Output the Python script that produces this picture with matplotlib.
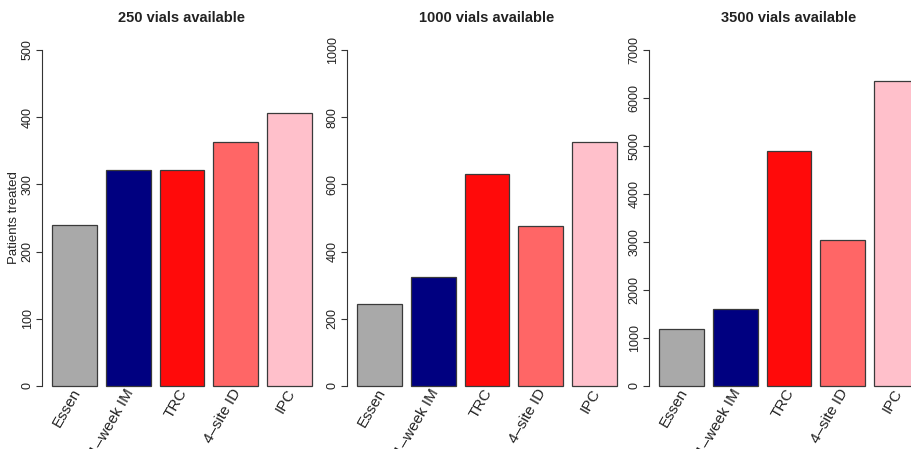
import matplotlib
matplotlib.use("Agg")
import matplotlib.pyplot as plt
import numpy as np

plt.rcParams.update({
    "font.family": ["Liberation Sans", "DejaVu Sans"],
    "font.size": 8,
})

strategies = ["Essen", "1\u2013week IM", "TRC", "4\u2013site ID", "IPC"]
colors = ["#A9A9A9", "#000080", "#FF0A0A", "#FF6666", "#FFC0CB"]

titles = ["250 vials available", "1000 vials available", "3500 vials available"]
ymax = [500, 1000, 7000]
yticks = [np.arange(0, 501, 100), np.arange(0, 1001, 200), np.arange(0, 7001, 1000)]

treated_250 = [240, 322, 322, 363, 407]
treated_1000 = [243, 325, 631, 477, 726]
treated_3500 = [1192, 1608, 4900, 3050, 6355]
panels = [treated_250, treated_1000, treated_3500]

W, H = 912, 449
fig = plt.figure(figsize=(W / 100, H / 100), dpi=100)

left_px = [42, 347, 649]
width_px = 280
top_px, bottom_px = 36.6, 399.4

for i, vals in enumerate(panels):
    ax = fig.add_axes([left_px[i] / W, 1 - bottom_px / H,
                       width_px / W, (bottom_px - top_px) / H])
    # R barplot geometry: width 1, space 0.2
    x_left = 0.2 + 1.2 * np.arange(len(vals))
    ax.bar(x_left, vals, width=1.0, align="edge", color=colors,
           edgecolor="#3a3a3a", linewidth=0.9)
    ax.set_xlim(-0.032, 6.232)
    ax.set_ylim(-0.04 * ymax[i], 1.04 * ymax[i])
    for s in ("top", "right", "bottom"):
        ax.spines[s].set_visible(False)
    ax.spines["left"].set_bounds(0, ymax[i])
    ax.spines["left"].set_linewidth(0.8)
    ax.spines["left"].set_color("#333333")
    ax.set_xticks([])
    ax.set_yticks(yticks[i])
    ax.set_yticklabels([str(t) for t in yticks[i]], rotation=90, va="center",
                       fontsize=9, color="#222222")
    ax.tick_params(axis="y", length=4, width=0.8, color="#333333", pad=2)
    for xl, lab in zip(x_left, strategies):
        ax.text(xl + 0.55, -0.011 * ymax[i], lab, rotation=60,
                rotation_mode="anchor", ha="right", va="center",
                fontsize=11, color="#222222", clip_on=False)
    fig.text((left_px[i] + width_px / 2) / W, 1 - 18 / H, titles[i],
             ha="center", va="center", fontsize=10.5, fontweight="bold",
             color="#222222")
    if i == 0:
        ax.set_ylabel("Patients treated", fontsize=9.5, color="#222222",
                      labelpad=1)

fig.savefig("out.png", dpi=100)
